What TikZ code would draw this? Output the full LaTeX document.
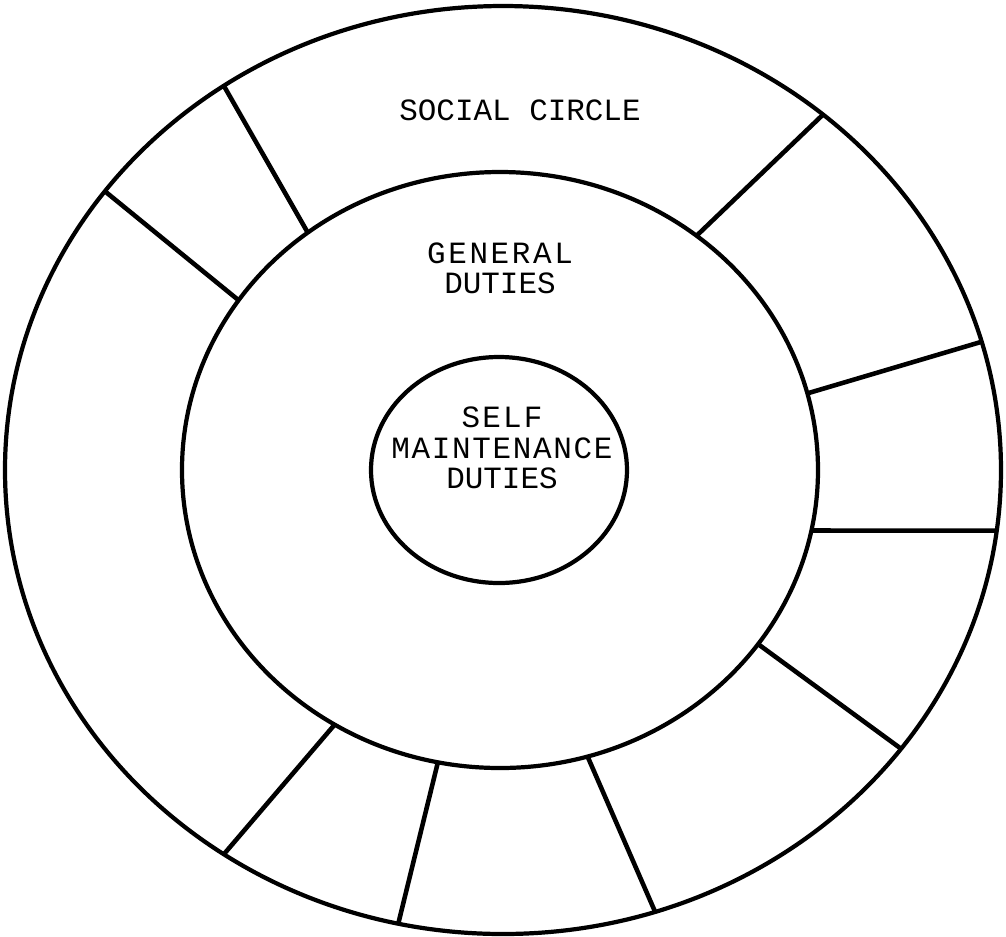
\documentclass[tikz,border=0pt]{standalone}
\usepackage{fontspec}
\setmonofont{Liberation Mono}
\usetikzlibrary{shapes.geometric}
\tikzset{
	ringnode/.style={
			ellipse,
			draw=black,
			line width=1.2pt,
			inner sep=0pt,
			outer sep=0pt
		},
	labelnode/.style={
			align=center,
			inner sep=0pt,
			font=\ttfamily\fontsize{8.8}{8.6}\selectfont
		},
	spokeline/.style={
			line width=1.3pt
		}
}
\newcommand{\spaced}[2]{{\addfontfeatures{LetterSpace=#1}#2}}

\begin{document}
\begin{tikzpicture}
\useasboundingbox (0,0) rectangle (10.06,-9.37);

\node[ringnode, minimum width=9.96cm, minimum height=9.28cm] (social) at (5.03,-4.70) {};
\node[ringnode, minimum width=6.36cm, minimum height=5.96cm] (general) at (5.00,-4.70) {};
\node[ringnode, minimum width=2.56cm, minimum height=2.26cm] (self) at (4.99,-4.70) {};

\node[labelnode] (tSocial) at (5.20,-1.105) {SOCIAL CIRCLE};
\node[labelnode] (tGeneral) at (5.00,-2.68) {\spaced{8.5}{GENERAL}\\DUTIES};
\node[labelnode] (tSelf) at (5.02,-4.48) {\spaced{7}{SELF}\\\spaced{5.5}{MAINTENANCE}\\DUTIES};

\draw[spokeline] (general.129) -- (social.126.5);
\draw[spokeline] (general.147) -- (social.145);
\draw[spokeline] (general.50.8) -- (social.48.4);
\draw[spokeline] (general.14.6) -- (social.15.3);
\draw[spokeline] (general.-11.6) -- (social.-7.3);
\draw[spokeline] (general.-34.6) -- (social.-35.9);
\draw[spokeline] (general.-73.6) -- (social.-71.8);
\draw[spokeline] (general.-102.3) -- (social.-103.1);
\draw[spokeline] (general.-123.1) -- (social.-126.6);

\end{tikzpicture}
\end{document}
